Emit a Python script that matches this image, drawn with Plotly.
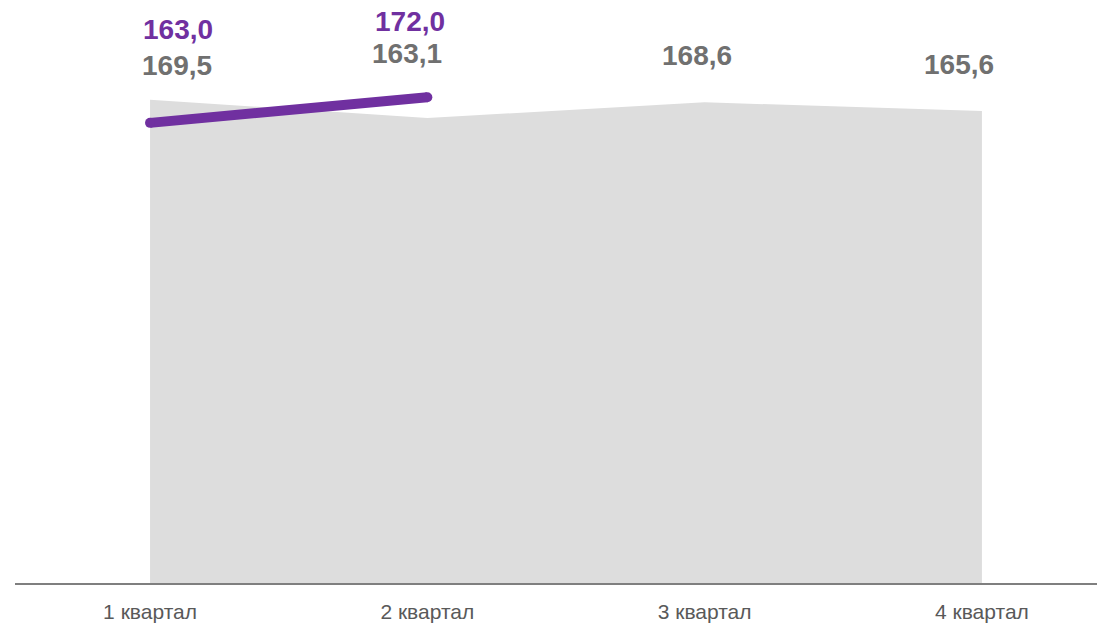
import plotly.graph_objects as go

categories = ["1 квартал", "2 квартал", "3 квартал", "4 квартал"]
gray_values = [169.5, 163.1, 168.6, 165.6]
purple_values = [163.0, 172.0]
x_pos = [0, 1, 2, 3]

def fmt(v):
    return f"{v:.1f}".replace(".", ",")

GRAY_FILL = "#DDDDDD"
PURPLE = "#7030A0"
LABEL_GRAY = "#707070"

fig = go.Figure()
fig.add_trace(go.Scatter(
    x=x_pos, y=gray_values, mode="lines", fill="tozeroy",
    fillcolor=GRAY_FILL, line=dict(width=0, color=GRAY_FILL),
    hoverinfo="skip", showlegend=False))
fig.add_trace(go.Scatter(
    x=x_pos[:len(purple_values)], y=purple_values, mode="lines+markers", yaxis="y2",
    line=dict(width=10, color=PURPLE), marker=dict(size=10, color=PURPLE),
    hoverinfo="skip", showlegend=False))

# label offsets (pixels) relative to the data points
gray_shifts = [(27, 34), (-20, 65), (-8, 47), (-23, 46)]
purple_shifts = [(28, 93), (-17, 76)]

annotations = []
for xi, v, (dx, dy) in zip(x_pos, gray_values, gray_shifts):
    annotations.append(dict(x=xi, y=v, xref="x", yref="y", text=f"<b>{fmt(v)}</b>",
                            showarrow=False, xshift=dx, yshift=dy,
                            font=dict(family="Liberation Sans, Arial", size=28, color=LABEL_GRAY)))
for xi, v, (dx, dy) in zip(x_pos, purple_values, purple_shifts):
    annotations.append(dict(x=xi, y=v, xref="x", yref="y2", text=f"<b>{fmt(v)}</b>",
                            showarrow=False, xshift=dx, yshift=dy,
                            font=dict(family="Liberation Sans, Arial", size=28, color=PURPLE)))

fig.update_layout(
    width=1097, height=623,
    margin=dict(l=15, r=0, t=0, b=40),
    paper_bgcolor="white", plot_bgcolor="white",
    annotations=annotations,
    xaxis=dict(range=[-0.487, 3.415], tickvals=x_pos, ticktext=categories,
               showgrid=False, zeroline=False, showline=True, linecolor="#7F7F7F", linewidth=2,
               ticks="outside", ticklen=9, tickcolor="rgba(0,0,0,0)",
               tickfont=dict(family="Liberation Sans, Arial", size=21, color="#595959"),
               automargin=False),
    yaxis=dict(range=[0, 204.5], showgrid=False, zeroline=False, showticklabels=False,
               showline=False, automargin=False),
    yaxis2=dict(range=[1.6, 206.1], overlaying="y", showgrid=False, zeroline=False,
                showticklabels=False, showline=False, automargin=False),
)

fig.write_html("out.html", config={"displayModeBar": False},
               post_script="document.body.style.margin='0';document.body.style.overflow='hidden';")
